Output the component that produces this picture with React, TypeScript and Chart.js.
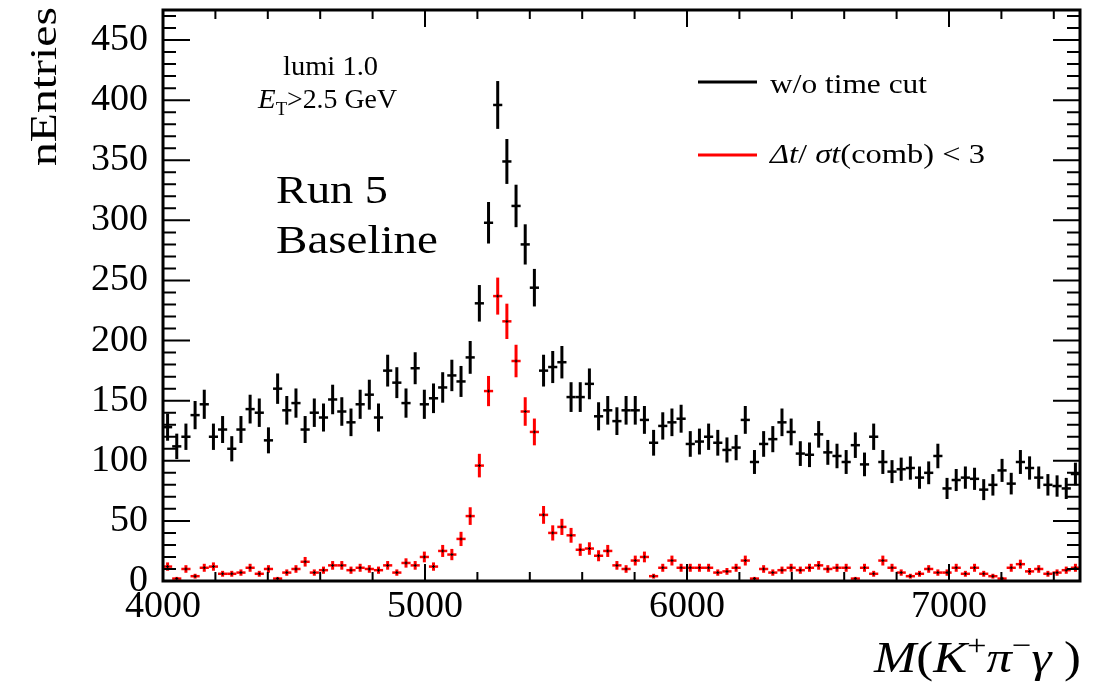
import React, { useEffect, useRef } from "react";
import { Chart, registerables } from "chart.js";

Chart.register(...registerables);

// ---- data ----
const X_MIN = 4000;
const X_MAX = 7500;
const BIN_WIDTH = 35;
const Y_MIN = 0;
const Y_MAX = 475;
const xTickValues = [4000, 5000, 6000, 7000];
const yTickValues = [0, 50, 100, 150, 200, 250, 300, 350, 400, 450];

// black: without time cut
const noCutCounts = [
  128, 112, 120, 138, 147, 120, 126, 110, 126, 143,
  140, 117, 160, 142, 148, 126, 140, 136, 151, 141,
  132, 147, 155, 136, 175, 165, 148, 177, 147, 152,
  161, 171, 166, 186, 231, 298, 396, 349, 312, 280,
  244, 175, 178, 182, 153, 153, 164, 137, 142, 133,
  142, 142, 134, 115, 129, 132, 135, 114, 116, 120,
  115, 109, 111, 134, 99, 114, 118, 132, 124, 106,
  105, 122, 107, 104, 99, 113, 97, 120, 99, 91,
  93, 94, 86, 90, 104, 77, 84, 86, 85, 76,
  80, 92, 81, 99, 94, 86, 80, 79, 77, 89,
];

// red: Δt/σt(comb) < 3
const timeCutCounts = [
  12, 2, 10, 4, 11, 12, 6, 6, 7, 11,
  6, 10, 2, 7, 10, 16, 7, 9, 13, 13,
  9, 11, 10, 9, 13, 7, 15, 13, 20, 12,
  25, 22, 35, 54, 96, 158, 237, 216, 183, 141,
  124, 55, 40, 45, 38, 26, 27, 21, 25, 13,
  10, 17, 20, 4, 11, 17, 11, 11, 11, 11,
  7, 8, 11, 17, 2, 10, 7, 9, 11, 9,
  11, 13, 10, 11, 11, 2, 11, 6, 17, 11,
  7, 4, 6, 10, 7, 7, 11, 6, 11, 6,
  4, 2, 11, 14, 8, 10, 6, 7, 9, 11,
];

const binCenters = noCutCounts.map((_, i) => X_MIN + BIN_WIDTH * (i + 0.5));

const SERIF = "'Liberation Serif', 'Times New Roman', serif";

type Part = { t: string; font: string; dy?: number };

function drawParts(ctx: CanvasRenderingContext2D, parts: Part[], x: number, y: number, targetWidth?: number) {
  let natural = 0;
  for (const p of parts) {
    ctx.font = p.font;
    natural += ctx.measureText(p.t).width;
  }
  const s = targetWidth ? targetWidth / natural : 1;
  ctx.save();
  ctx.translate(x, y);
  ctx.scale(s, 1);
  ctx.textAlign = "left";
  ctx.textBaseline = "alphabetic";
  ctx.fillStyle = "#000";
  let cx = 0;
  for (const p of parts) {
    ctx.font = p.font;
    ctx.fillText(p.t, cx, p.dy || 0);
    cx += ctx.measureText(p.t).width;
  }
  ctx.restore();
}

const decorPlugin = {
  id: "rootDecor",
  afterDatasetsDraw(chart: any) {
    const ctx: CanvasRenderingContext2D = chart.ctx;
    const xs = chart.scales.x;
    const ys = chart.scales.y;
    const series = [
      { values: noCutCounts, color: "#000000", marker: false },
      { values: timeCutCounts, color: "#ff0000", marker: true },
    ];
    ctx.save();
    for (const s of series) {
      for (let i = 0; i < s.values.length; i++) {
        const v = s.values[i];
        const c = binCenters[i];
        const e = Math.sqrt(v);
        const xc = xs.getPixelForValue(c);
        const xl = xs.getPixelForValue(c - BIN_WIDTH / 2);
        const xr = xs.getPixelForValue(c + BIN_WIDTH / 2);
        const yv = ys.getPixelForValue(v);
        const yt = ys.getPixelForValue(v + e);
        const yb = ys.getPixelForValue(Math.max(v - e, 0));
        ctx.strokeStyle = s.color;
        ctx.lineWidth = 3;
        ctx.beginPath();
        ctx.moveTo(xc, yt);
        ctx.lineTo(xc, yb);
        ctx.stroke();
        ctx.lineWidth = 2.5;
        ctx.beginPath();
        ctx.moveTo(xl, yv);
        ctx.lineTo(xr, yv);
        ctx.stroke();
        if (s.marker) {
          ctx.fillStyle = "#000";
          ctx.fillRect(xc - 1.5, yv - 0.5, 3, 1);
          ctx.fillRect(xc - 0.5, yv - 1.5, 1, 3);
        }
      }
    }
    ctx.restore();
  },
  afterDraw(chart: any) {
    const ctx: CanvasRenderingContext2D = chart.ctx;
    const xs = chart.scales.x;
    const ys = chart.scales.y;
    const { left, right, top, bottom } = chart.chartArea;
    ctx.save();
    ctx.strokeStyle = "#000";
    // ticks
    ctx.lineWidth = 2;
    ctx.beginPath();
    for (let v = Y_MIN; v <= 470; v += 10) {
      const y = ys.getPixelForValue(v);
      const len = v % 50 === 0 ? 27 : 13;
      ctx.moveTo(left, y);
      ctx.lineTo(left + len, y);
      ctx.moveTo(right, y);
      ctx.lineTo(right - len, y);
    }
    for (let v = X_MIN; v <= X_MAX; v += 200) {
      const x = xs.getPixelForValue(v);
      const len = v % 1000 === 0 ? 17 : 9;
      ctx.moveTo(x, bottom);
      ctx.lineTo(x, bottom - len);
      ctx.moveTo(x, top);
      ctx.lineTo(x, top + len);
    }
    ctx.stroke();
    // frame
    ctx.lineWidth = 3;
    ctx.strokeRect(left, top, right - left, bottom - top);
    ctx.restore();

    // y title (rotated)
    ctx.save();
    ctx.translate(56, 166);
    ctx.rotate(-Math.PI / 2);
    drawParts(ctx, [{ t: "nEntries", font: `38px ${SERIF}` }], 0, 0, 159);
    ctx.restore();

    // x title
    const big = 44;
    drawParts(
      ctx,
      [
        { t: "M", font: `italic ${big}px ${SERIF}` },
        { t: "(", font: `${big}px ${SERIF}` },
        { t: "K", font: `italic ${big}px ${SERIF}` },
        { t: "+", font: `30px ${SERIF}`, dy: -17 },
        { t: "π", font: `italic ${big}px ${SERIF}` },
        { t: "−", font: `30px ${SERIF}`, dy: -17 },
        { t: "γ", font: `italic ${big}px ${SERIF}` },
        { t: " )", font: `${big}px ${SERIF}` },
      ],
      874,
      672,
      207
    );

    // annotations
    drawParts(ctx, [{ t: "lumi 1.0", font: `27px ${SERIF}` }], 283, 75, 95);
    drawParts(
      ctx,
      [
        { t: "E", font: `italic 28px ${SERIF}` },
        { t: "T", font: `18px ${SERIF}`, dy: 7 },
        { t: ">2.5 GeV", font: `27px ${SERIF}` },
      ],
      258,
      108,
      139
    );
    drawParts(ctx, [{ t: "Run 5", font: `40px ${SERIF}` }], 276, 203, 112);
    drawParts(ctx, [{ t: "Baseline", font: `40px ${SERIF}` }], 276, 253, 162);

    // legend
    ctx.save();
    ctx.lineWidth = 3;
    ctx.strokeStyle = "#000";
    ctx.beginPath();
    ctx.moveTo(698, 82);
    ctx.lineTo(757, 82);
    ctx.stroke();
    ctx.strokeStyle = "#ff0000";
    ctx.beginPath();
    ctx.moveTo(698, 155);
    ctx.lineTo(757, 155);
    ctx.stroke();
    ctx.restore();
    drawParts(ctx, [{ t: "w/o time cut", font: `27px ${SERIF}` }], 770, 93, 157);
    drawParts(
      ctx,
      [
        { t: "Δt", font: `italic 27px ${SERIF}` },
        { t: "/ ", font: `27px ${SERIF}` },
        { t: "σt", font: `italic 27px ${SERIF}` },
        { t: "(comb) < 3", font: `27px ${SERIF}` },
      ],
      770,
      163,
      215
    );
  },
};

export default function App() {
  const ref = useRef<HTMLCanvasElement | null>(null);
  useEffect(() => {
    document.body.style.margin = "0";
    const canvas = ref.current;
    if (!canvas) return;
    const chart = new Chart(canvas, {
      type: "scatter",
      data: {
        datasets: [
          {
            label: "w/o time cut",
            data: binCenters.map((x, i) => ({ x, y: noCutCounts[i] })),
            pointRadius: 0,
            borderColor: "#000000",
            backgroundColor: "#000000",
            showLine: false,
          },
          {
            label: "Δt/σt(comb) < 3",
            data: binCenters.map((x, i) => ({ x, y: timeCutCounts[i] })),
            pointRadius: 0,
            borderColor: "#ff0000",
            backgroundColor: "#ff0000",
            showLine: false,
          },
        ],
      },
      options: {
        animation: false,
        responsive: false,
        maintainAspectRatio: false,
        devicePixelRatio: 1,
        events: [],
        layout: { padding: { top: 10, right: 23, left: 0, bottom: 0 } },
        plugins: { legend: { display: false }, tooltip: { enabled: false }, title: { display: false } },
        scales: {
          x: {
            type: "linear",
            min: X_MIN,
            max: X_MAX,
            afterBuildTicks: (s: any) => {
              s.ticks = xTickValues.map((v) => ({ value: v }));
            },
            afterFit: (s: any) => {
              s.height = 103;
              s.paddingLeft = 0;
              s.paddingRight = 0;
            },
            grid: { display: false, drawTicks: false },
            border: { display: false },
            ticks: {
              color: "#000",
              font: { family: SERIF, size: 38, lineHeight: 1 },
              padding: 7,
              maxRotation: 0,
              autoSkip: false,
              callback: (v: any) => String(v),
            },
          },
          y: {
            type: "linear",
            min: Y_MIN,
            max: Y_MAX,
            afterBuildTicks: (s: any) => {
              s.ticks = yTickValues.map((v) => ({ value: v }));
            },
            afterFit: (s: any) => {
              s.width = 163;
              s.paddingTop = 0;
              s.paddingBottom = 0;
            },
            grid: { display: false, drawTicks: false },
            border: { display: false },
            ticks: {
              color: "#000",
              font: { family: SERIF, size: 38, lineHeight: 1 },
              padding: 15,
              autoSkip: false,
              callback: (v: any) => String(v),
            },
          },
        },
      },
      plugins: [decorPlugin],
    } as any);
    return () => chart.destroy();
  }, []);
  return (
    <div style={{ position: "absolute", left: 0, top: 0, width: 1103, height: 684, background: "#fff" }}>
      <canvas ref={ref} width={1103} height={684} style={{ width: 1103, height: 684, display: "block" }} />
    </div>
  );
}
